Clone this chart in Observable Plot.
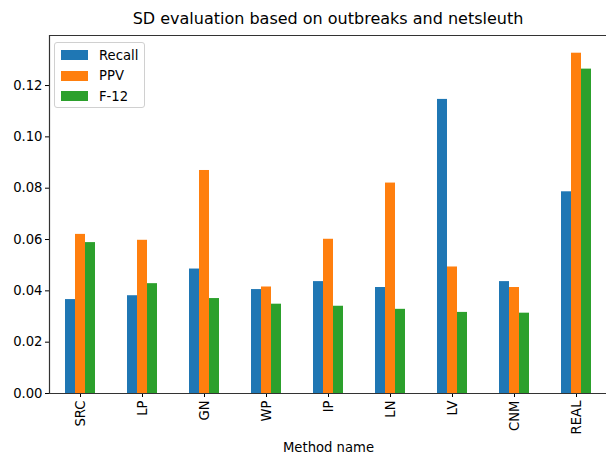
<!DOCTYPE html>
<html>
<head>
<meta charset="utf-8">
<script src="https://cdn.jsdelivr.net/npm/d3@7"></script>
<script src="https://cdn.jsdelivr.net/npm/@observablehq/plot@0.6"></script>
<style>
  html, body { margin: 0; padding: 0; background: #fff; overflow: hidden; }
  body { width: 606px; height: 455px; position: relative; font-family: "DejaVu Sans", sans-serif; }
  #title { position: absolute; left: 47px; width: 562px; top: 9px; text-align: center; font-size: 16px; color: #000; }
  #legend { position: absolute; left: 54px; top: 42px; width: 89px; height: 64px; border: 1px solid #d0d0d0; border-radius: 3px; background: rgba(255,255,255,0.8); font-size: 13.2px; color: #000; }
  .row { position: absolute; left: 6px; height: 20px; display: flex; align-items: center; }
  .sw { width: 27px; height: 10px; margin-right: 11px; }
  #chart { position: absolute; left: 0; top: 0; width: 610px; height: 455px; }
  #chart svg { max-width: none !important; width: 610px; height: 455px; }
</style>
</head>
<body>
<div id="chart"></div>
<div id="title">SD evaluation based on outbreaks and netsleuth</div>
<div id="legend"></div>
<script>
const categories = ["SRC", "LP", "GN", "WP", "IP", "LN", "LV", "CNM", "REAL"];
const seriesNames = ["Recall", "PPV", "F-12"];
const recall = [0.0366, 0.0381, 0.0485, 0.0405, 0.0436, 0.0413, 0.1146, 0.0436, 0.0786];
const ppv    = [0.0620, 0.0597, 0.0869, 0.0415, 0.0601, 0.0820, 0.0493, 0.0413, 0.1326];
const f12    = [0.0588, 0.0428, 0.0370, 0.0348, 0.0340, 0.0328, 0.0316, 0.0313, 0.1264];
const colors = ["#1f77b4", "#ff7f0e", "#2ca02c"];
const yTicks = [0, 0.02, 0.04, 0.06, 0.08, 0.10, 0.12];
const yMax = 0.1395;

const seriesValues = [recall, ppv, f12];
const rows = [];
categories.forEach((c, i) => {
  seriesNames.forEach((s, j) => rows.push({method: c, series: s, value: seriesValues[j][i]}));
});

const axisColor = "#333";
const chart = Plot.plot({
  width: 610,
  height: 455,
  marginLeft: 47,
  marginRight: 1,
  marginTop: 35,
  marginBottom: 62,
  style: {fontFamily: "DejaVu Sans, sans-serif", fontSize: "13.2px", color: "#000", background: "transparent", maxWidth: "none"},
  facet: {data: rows, x: "method"},
  fx: {domain: categories, padding: 0, axis: "bottom", tickRotate: -90, tickSize: 4, tickPadding: 3, label: "Method name", labelAnchor: "center", labelOffset: 58},
  x: {domain: seriesNames, paddingInner: 0, paddingOuter: 1.5, axis: null},
  y: {domain: [0, yMax], ticks: yTicks, tickFormat: d3.format(".2f"), tickSize: 4, tickPadding: 3, label: null, line: false},
  color: {domain: seriesNames, range: colors},
  marks: [
    Plot.barY(rows, {x: "series", y: "value", fill: "series"}),
    Plot.frame({facet: "super", anchor: "left", stroke: axisColor, strokeWidth: 1.2}),
    Plot.ruleY([0], {stroke: axisColor, strokeWidth: 1.2}),
    Plot.ruleY([yMax], {stroke: axisColor, strokeWidth: 1.2})
  ]
});
document.getElementById("chart").appendChild(chart);

const legend = document.getElementById("legend");
seriesNames.forEach((s, j) => {
  const row = document.createElement("div");
  row.className = "row";
  row.style.top = (2 + j * 20.5) + "px";
  const sw = document.createElement("div");
  sw.className = "sw";
  sw.style.background = colors[j];
  const lab = document.createElement("span");
  lab.textContent = s;
  row.appendChild(sw);
  row.appendChild(lab);
  legend.appendChild(row);
});
</script>
</body>
</html>
